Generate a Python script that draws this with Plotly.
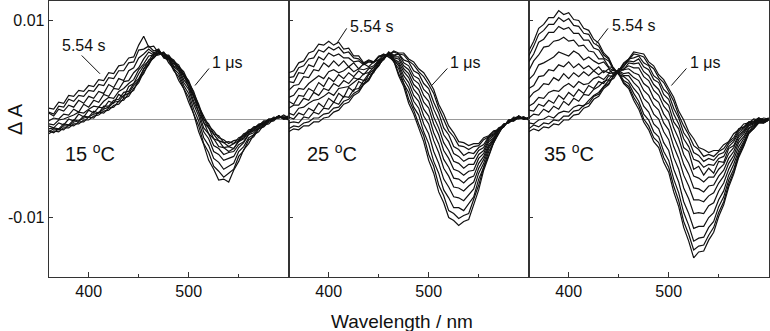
import plotly.graph_objects as go

# Wavelength grid (nm)
wavelengths = [360, 365, 370, 375, 380, 385, 390, 395, 400, 405,
               410, 415, 420, 425, 430, 435, 440, 445, 450, 455,
               460, 465, 470, 475, 480, 485, 490, 495, 500, 505,
               510, 515, 520, 525, 530, 535, 540, 545, 550, 555,
               560, 565, 570, 575, 580, 585, 590, 595, 600]

# Difference spectra, units of 1e-4 ΔA, from 1 µs (first) to 5.54 s (last)
spectra_15C = [
    [-15,-12,-13,-9,-9,-5,-5,-1,-1,3,4,8,9,14,15,21,23,31,37,48,55,64,65,67,63,60,53,48,37,28,13,3,-7,-12,-19,-21,-25,-22,-21,-15,-13,-8,-7,-2,-2,2,1,2,-1],
    [-12,-14,-10,-11,-6,-7,-3,-3,2,1,7,6,11,12,18,19,26,29,40,46,57,62,67,65,65,58,55,45,39,26,15,0,-5,-15,-17,-24,-23,-25,-19,-17,-11,-10,-5,-4,0,0,3,0,1],
    [-13,-10,-11,-7,-7,-3,-2,1,2,5,6,10,12,17,18,24,26,34,39,51,56,65,66,67,62,59,52,46,36,24,11,0,-9,-16,-22,-24,-28,-25,-22,-17,-14,-9,-7,-3,-2,1,2,2,0],
    [-10,-9,-10,-5,-6,-1,-2,3,2,8,6,13,13,19,20,27,28,36,41,51,60,62,68,64,64,56,53,43,36,22,12,-4,-9,-20,-22,-29,-28,-30,-22,-19,-13,-11,-6,-5,0,0,3,0,1],
    [-7,-9,-4,-6,0,-2,5,2,9,6,12,11,18,16,25,22,33,36,46,54,59,67,66,68,61,58,49,45,32,23,7,-3,-15,-20,-28,-29,-33,-30,-23,-20,-13,-12,-6,-5,-1,0,3,1,-1],
    [-5,-6,-1,0,2,4,7,6,10,13,12,18,22,21,28,31,36,40,50,56,64,65,69,63,63,54,51,40,33,18,7,-9,-15,-27,-30,-36,-34,-33,-26,-23,-15,-12,-7,-5,-1,0,3,0,1],
    [-2,1,0,5,4,10,7,15,12,19,17,25,23,31,30,38,39,47,52,61,68,65,70,63,62,53,49,37,30,15,3,-13,-20,-33,-36,-42,-40,-38,-29,-24,-16,-14,-8,-6,-1,-1,3,1,2],
    [6,3,10,8,14,12,19,16,23,21,28,26,35,32,41,39,49,52,62,66,71,67,70,63,61,51,46,34,26,10,-2,-19,-27,-40,-44,-51,-48,-45,-33,-28,-19,-16,-9,-7,-2,-1,3,1,2],
    [7,5,13,12,20,18,24,23,29,28,35,34,42,41,49,49,57,58,70,71,74,69,71,62,60,49,43,31,22,5,-7,-25,-34,-48,-53,-59,-55,-51,-38,-32,-21,-18,-10,-8,-3,-2,3,2,3],
    [11,10,17,16,24,23,29,28,34,33,40,39,47,46,54,55,62,63,75,84,73,74,67,66,57,51,39,31,17,5,-13,-26,-42,-51,-62,-61,-64,-52,-43,-31,-25,-16,-13,-6,-5,0,1,4,1],
]

spectra_25C = [
    [-13,-10,-11,-7,-7,-3,-3,1,2,7,9,15,17,24,27,35,39,48,54,62,65,69,67,67,61,58,51,47,39,30,15,5,-7,-14,-23,-24,-27,-25,-25,-19,-17,-12,-11,-5,-4,0,0,2,-1],
    [-10,-7,-8,-4,-3,1,1,5,6,11,12,18,20,26,29,36,40,49,54,62,65,68,66,65,59,55,48,43,35,26,11,0,-12,-18,-27,-28,-31,-28,-27,-21,-18,-13,-11,-5,-4,0,1,2,-1],
    [-4,-3,-4,2,1,7,5,11,10,17,15,23,22,30,31,39,41,49,55,61,68,65,66,60,58,49,46,36,31,17,6,-9,-16,-28,-31,-37,-34,-35,-29,-26,-18,-15,-9,-7,-2,-2,2,0,1],
    [2,0,6,4,11,8,16,12,21,17,26,22,32,28,38,35,45,47,57,60,68,64,66,57,54,44,41,30,25,10,-1,-16,-23,-35,-38,-43,-40,-40,-32,-29,-19,-16,-10,-7,-2,-2,2,0,1],
    [6,4,11,12,16,19,20,23,27,24,31,32,33,37,41,39,46,50,58,61,67,63,63,54,50,40,36,24,18,2,-9,-24,-32,-43,-45,-50,-46,-46,-36,-32,-21,-17,-10,-7,-2,-2,2,0,1],
    [11,14,14,21,19,27,24,31,29,36,33,39,36,42,40,46,47,53,58,63,67,62,61,51,46,35,30,17,11,-5,-16,-32,-40,-51,-53,-57,-53,-52,-40,-35,-23,-19,-11,-7,-2,-1,2,0,1],
    [18,15,24,23,31,28,37,33,42,38,45,41,47,43,49,45,51,52,59,61,67,61,58,48,42,30,24,10,3,-14,-25,-41,-49,-60,-61,-65,-60,-58,-45,-38,-26,-20,-11,-7,-2,-1,2,0,1],
    [22,24,31,30,36,40,44,41,48,50,47,49,53,48,51,50,52,54,60,62,67,60,56,44,37,24,18,3,-5,-22,-34,-50,-58,-69,-70,-73,-68,-64,-50,-41,-28,-21,-11,-8,-1,-1,3,0,1],
    [29,34,35,43,42,50,49,57,53,59,54,59,53,57,51,56,53,58,60,65,66,60,54,40,32,18,11,-5,-15,-33,-45,-61,-69,-79,-80,-83,-77,-71,-55,-45,-30,-22,-12,-8,-1,-1,3,0,1],
    [38,37,47,46,55,53,63,60,67,64,66,62,62,58,59,55,58,57,63,64,65,58,51,36,27,12,4,-13,-25,-43,-55,-72,-80,-90,-90,-93,-86,-79,-61,-49,-33,-24,-12,-8,-1,0,3,0,1],
    [42,43,52,54,61,62,70,68,73,70,73,67,68,62,61,56,59,58,63,66,63,60,46,36,20,9,-5,-17,-36,-48,-67,-78,-93,-96,-101,-98,-96,-82,-67,-49,-37,-23,-15,-6,-3,1,1,2,-1],
    [47,49,57,59,67,69,76,75,79,75,78,71,72,64,64,57,60,58,64,65,63,59,44,33,16,5,-9,-23,-42,-55,-74,-85,-100,-103,-108,-104,-102,-87,-72,-52,-39,-24,-15,-6,-3,2,1,2,0],
]

spectra_35C = [
    [-13,-10,-12,-8,-9,-5,-6,-1,-1,4,5,11,13,20,23,31,35,44,49,57,61,68,67,66,58,54,45,40,31,22,8,-1,-13,-20,-29,-31,-34,-32,-32,-26,-23,-15,-11,-5,-4,0,-1,1,0],
    [-10,-6,-8,-4,-5,-1,-2,3,3,8,9,14,16,23,25,33,36,44,49,56,60,66,65,63,55,51,42,37,28,18,4,-7,-16,-27,-31,-38,-36,-38,-33,-30,-23,-19,-10,-8,-3,-2,1,-1,0],
    [-4,-5,-1,0,3,1,6,8,7,12,14,13,19,24,27,33,39,41,49,53,61,62,64,57,54,44,40,30,25,11,1,-14,-21,-34,-37,-43,-40,-42,-36,-34,-25,-21,-12,-9,-3,-3,1,-1,1],
    [1,5,4,10,7,13,10,18,14,21,18,25,24,30,33,38,40,46,49,54,59,58,61,53,50,40,37,25,20,5,-5,-20,-28,-41,-43,-49,-46,-47,-40,-38,-28,-23,-14,-10,-4,-3,0,-1,1],
    [9,8,15,13,19,16,24,20,27,23,30,26,34,31,38,36,44,43,51,50,57,56,57,48,44,35,30,19,14,-3,-10,-29,-33,-51,-48,-57,-50,-55,-43,-44,-30,-27,-16,-12,-5,-4,0,-2,1],
    [13,16,22,21,27,29,28,33,36,32,38,35,36,41,43,40,46,47,49,51,54,52,52,43,39,29,24,13,7,-9,-20,-36,-45,-58,-60,-64,-59,-59,-51,-46,-35,-29,-18,-13,-6,-4,-1,-2,0],
    [21,27,30,36,35,42,39,46,41,47,43,48,44,49,45,49,47,50,48,50,51,47,45,36,32,21,17,5,-2,-18,-30,-46,-56,-70,-71,-74,-68,-67,-58,-52,-40,-33,-21,-15,-7,-5,-1,-2,0],
    [31,34,43,44,50,49,55,53,58,52,56,51,54,49,53,47,51,45,49,46,47,42,39,29,24,14,9,-4,-11,-28,-40,-57,-68,-82,-82,-84,-78,-75,-65,-58,-45,-37,-24,-18,-9,-6,-2,-3,0],
    [40,45,55,57,60,63,68,66,64,69,66,60,63,59,56,58,52,49,48,44,44,37,32,21,16,5,0,-13,-21,-39,-51,-70,-81,-96,-95,-96,-88,-85,-73,-65,-51,-41,-28,-20,-10,-7,-2,-3,0],
    [49,59,65,73,74,79,80,83,79,80,74,75,69,68,61,61,53,52,45,43,39,31,25,13,7,-5,-10,-24,-32,-51,-64,-84,-96,-111,-109,-109,-100,-95,-82,-73,-57,-46,-32,-23,-12,-8,-3,-3,-1],
    [58,66,78,81,88,88,94,91,93,87,87,80,80,72,70,62,59,50,47,39,36,26,18,5,-1,-13,-18,-33,-42,-61,-75,-95,-108,-124,-121,-120,-110,-104,-89,-79,-62,-51,-35,-25,-13,-9,-3,-4,-1],
    [64,74,86,90,96,96,103,99,102,95,94,87,86,77,74,65,61,50,46,37,33,22,14,0,-7,-19,-24,-39,-49,-68,-83,-104,-117,-133,-129,-128,-118,-110,-95,-84,-66,-54,-37,-27,-14,-10,-4,-4,-1],
    [69,79,92,96,103,103,110,106,108,101,100,92,90,81,77,67,62,51,46,36,31,19,10,-3,-11,-23,-29,-44,-54,-74,-89,-110,-124,-141,-135,-134,-123,-115,-99,-87,-69,-56,-39,-28,-15,-10,-4,-4,-1],
]

temperatures = ["15 <sup>o</sup>C", "25 <sup>o</sup>C", "35 <sup>o</sup>C"]
x_ticks = [400, 500]
x_minor_ticks = [450, 550]
y_ticks = [0.01, -0.01]
y_ticktext = ["0.01", "-0.01"]
UNIT = 1e-4

FONT = "Liberation Sans, Arial, Helvetica, sans-serif"
INK = "#111111"
FRAME = "#333333"

fig = go.Figure()
all_panels = [spectra_15C, spectra_25C, spectra_35C]
for i, panel in enumerate(all_panels):
    sfx = "" if i == 0 else str(i + 1)
    for s in panel:
        assert len(s) == len(wavelengths), (i, len(s))
        fig.add_trace(go.Scatter(
            x=wavelengths, y=[v * UNIT for v in s], mode="lines",
            line=dict(color=INK, width=1.2), showlegend=False,
            hoverinfo="skip", xaxis="x" + sfx, yaxis="y" + sfx))

W, H = 770, 331
left0 = 48.7
pw = 240.0
domains = [[(left0 + k * pw) / W, min((left0 + (k + 1) * pw) / W, 0.9987)] for k in range(3)]

layout = dict(
    width=W, height=H,
    margin=dict(l=0, r=0, t=1, b=54),
    plot_bgcolor="white", paper_bgcolor="white",
    font=dict(family=FONT, color=INK, size=16),
    showlegend=False,
)
for k in range(3):
    sfx = "" if k == 0 else str(k + 1)
    layout["xaxis" + sfx] = dict(
        domain=domains[k], range=[360, 600], anchor="y" + sfx,
        tickvals=x_ticks, ticks="inside", ticklen=5, tickwidth=1, tickcolor=FRAME,
        minor=dict(tickvals=x_minor_ticks, ticks="inside", ticklen=3, tickwidth=1, tickcolor=FRAME),
        showline=True, mirror=True, linecolor=FRAME, linewidth=1,
        showgrid=False, zeroline=False,
        tickfont=dict(family=FONT, size=16, color=INK))
    layout["yaxis" + sfx] = dict(
        domain=[0, 1], range=[-0.01604, 0.01198], anchor="x" + sfx,
        tickvals=y_ticks, ticktext=y_ticktext, ticks="inside", ticklen=4,
        tickwidth=1, tickcolor=FRAME, showticklabels=(k == 0),
        showline=True, mirror=True, linecolor=FRAME, linewidth=1,
        showgrid=False, zeroline=True, zerolinecolor="#999999", zerolinewidth=1,
        tickfont=dict(family=FONT, size=16, color=INK))
fig.update_layout(**layout)

annotations = []
shapes = []
lab_554 = [(371.3, 0.0075), (419.3, 0.0094), (441.0, 0.0095)]
lab_1us = [(521.3, 0.0057), (519.3, 0.0057), (519.0, 0.0057)]
lead_554 = [((393, 0.00645), (411.3, 0.00459)), ((418, 0.0092), (408, 0.00766)),
            ((439.3, 0.0092), (427.7, 0.00766))]
lead_1us = [((520.3, 0.00513), (506.3, 0.0034)), ((518.6, 0.00513), (503, 0.0034)),
            ((517.7, 0.00513), (502.7, 0.0034))]
lab_temp = [374.3, 376.3, 373.0]
for k in range(3):
    sfx = "" if k == 0 else str(k + 1)
    annotations.append(dict(x=lab_554[k][0], y=lab_554[k][1], xref="x" + sfx, yref="y" + sfx,
                            text="5.54 s", showarrow=False, xanchor="left", yanchor="middle",
                            font=dict(size=16, family=FONT, color=INK)))
    annotations.append(dict(x=lab_1us[k][0], y=lab_1us[k][1], xref="x" + sfx, yref="y" + sfx,
                            text="1 μs", showarrow=False, xanchor="left", yanchor="middle",
                            font=dict(size=16, family=FONT, color=INK)))
    annotations.append(dict(x=lab_temp[k], y=-0.00345, xref="x" + sfx, yref="y" + sfx,
                            text=temperatures[k], showarrow=False, xanchor="left", yanchor="middle",
                            font=dict(size=20, family=FONT, color=INK)))
    for (a, b) in (lead_554[k], lead_1us[k]):
        shapes.append(dict(type="line", xref="x" + sfx, yref="y" + sfx,
                           x0=a[0], y0=a[1], x1=b[0], y1=b[1],
                           line=dict(color=INK, width=1)))

annotations.append(dict(x=15 / W, y=(277 - 119) / 276, xref="paper", yref="paper",
                        text="Δ A", textangle=-90, showarrow=False,
                        xanchor="center", yanchor="middle",
                        font=dict(size=20, family=FONT, color=INK)))
annotations.append(dict(x=402 / W, y=(277 - 321) / 276, xref="paper", yref="paper",
                        text="Wavelength / nm", showarrow=False,
                        xanchor="center", yanchor="middle",
                        font=dict(size=19, family=FONT, color=INK)))
fig.update_layout(annotations=annotations, shapes=shapes)

fig.write_html("out.html", config={"displayModeBar": False})

# remove the browser's default body margin so the figure sits at (0, 0)
with open("out.html", "r", encoding="utf-8") as fh:
    html = fh.read()
html = html.replace("<head>", "<head><style>html,body{margin:0;padding:0;overflow:hidden;}</style>", 1)
with open("out.html", "w", encoding="utf-8") as fh:
    fh.write(html)
